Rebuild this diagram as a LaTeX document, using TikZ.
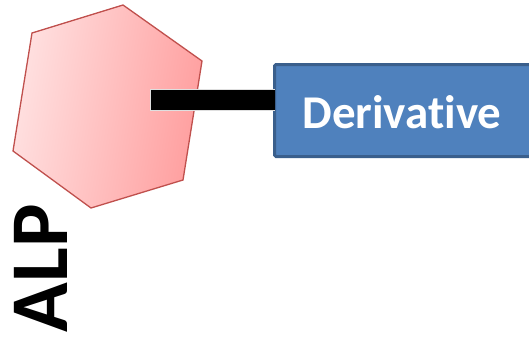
\documentclass[tikz,border=0pt]{standalone}
\usepackage{fontspec}
\setmainfont{Carlito}[Ligatures={NoCommon}]
\begin{document}
\begin{tikzpicture}[x=1pt,y=-1pt,
  hexstyle/.style={draw=hexborder,line width=1.3pt,left color=hexleft,right color=hexright,shading angle=80},
  boxstyle/.style={draw=boxborder,fill=boxfill,line width=3pt,rounded corners=1.5pt},
  barouter/.style={line width=22pt,draw=gray!25,line cap=butt},
  barinner/.style={line width=20pt,draw=black,line cap=butt},
  labelstyle/.style={font=\bfseries\fontsize{47}{50}\selectfont,text=white,inner sep=0pt}]
\definecolor{hexborder}{HTML}{C0504D}
\definecolor{hexleft}{HTML}{FFE2E2}
\definecolor{hexright}{HTML}{FF9E9E}
\definecolor{boxborder}{HTML}{3A5F8C}
\definecolor{boxfill}{HTML}{4F81BD}
\useasboundingbox (0,0) rectangle (529,337);
\clip (0,0) rectangle (529,337);
\path[hexstyle] (123,5) -- (202,61) -- (183,180) -- (91,208) -- (13,151) -- (32,33) -- cycle;
\coordinate (hexin) at (150,100);
\path[boxstyle] (274.5,64.5) rectangle (545,156.5);
\node[minimum width=0pt] (deriv) at (274.5,110.5) {};
\node[labelstyle] (dtext) at (402,112) {Derivative};
\draw[barouter] (hexin) -- (hexin -| deriv.center);
\draw[barinner] ([xshift=1pt]hexin) -- (hexin -| deriv.center);
\node[font=\bfseries\fontsize{82}{86}\selectfont,rotate=90,inner sep=0pt] (alp) at (41,268) {ALP};
\end{tikzpicture}
\end{document}
